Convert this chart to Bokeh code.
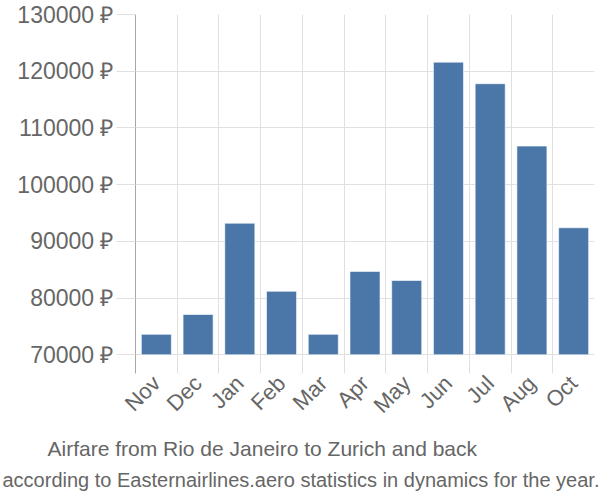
from bokeh.plotting import figure
from bokeh.models import Range1d, FixedTicker, PrintfTickFormatter, Title, ColumnDataSource
from bokeh.embed import file_html
from bokeh.resources import INLINE
from math import pi

months = ["Nov", "Dec", "Jan", "Feb", "Mar", "Apr", "May", "Jun", "Jul", "Aug", "Oct"]
prices = [73600, 77100, 93200, 81200, 73600, 84700, 83100, 121600, 117800, 106800, 92400]
y_ticks = [70000, 80000, 90000, 100000, 110000, 120000, 130000]
title_text = "Airfare from Rio de Janeiro to Zurich and back"
subtitle_text = "according to Easternairlines.aero statistics in dynamics for the year."

FONT = "Liberation Sans"
GRAY = "#666666"
GRID = "#e0e0e0"

n = len(months)
centers = [i + 0.5 for i in range(n)]
src = ColumnDataSource(dict(x=centers, top=prices, month=months))

p = figure(width=600, height=500,
           x_range=Range1d(0, n), y_range=Range1d(66700, 130000),
           output_backend="svg", toolbar_location=None,
           min_border_left=135, min_border_right=6,
           min_border_top=14, min_border_bottom=127)
p.outline_line_color = None
p.background_fill_color = "white"
p.border_fill_color = "white"

p.vbar(x="x", top="top", bottom=y_ticks[0], width=0.72, source=src,
       fill_color="#4a77a8", line_color="white", line_alpha=0.6, line_width=1)

# grids
p.xgrid.ticker = FixedTicker(ticks=list(range(n + 1)))
p.xgrid.grid_line_color = GRID
p.xgrid.grid_line_width = 1
p.ygrid.ticker = FixedTicker(ticks=y_ticks)
p.ygrid.grid_line_color = GRID
p.ygrid.grid_line_width = 1

# y axis
ya = p.yaxis[0]
ya.ticker = FixedTicker(ticks=y_ticks)
ya.formatter = PrintfTickFormatter(format="%d ₽")
ya.axis_line_color = "#a8a8a8"
ya.axis_line_width = 1
ya.major_tick_line_color = GRID
ya.major_tick_out = 19
ya.major_tick_in = 0
ya.minor_tick_line_color = None
ya.major_label_standoff = 3
ya.major_label_text_font = FONT
ya.major_label_text_font_size = "23px"
ya.major_label_text_color = GRAY

# x axis
xa = p.xaxis[0]
xa.ticker = FixedTicker(ticks=centers)
xa.major_label_overrides = {c: m for c, m in zip(centers, months)}
xa.axis_line_color = None
xa.major_tick_line_color = None
xa.minor_tick_line_color = None
xa.major_label_orientation = pi / 4
xa.major_label_standoff = 0
xa.major_label_text_font = FONT
xa.major_label_text_font_size = "22px"
xa.major_label_text_color = GRAY

# titles below
t1 = Title(text=title_text, align="left", offset=-88, standoff=11,
           text_font=FONT, text_font_size="21px", text_color=GRAY,
           text_font_style="normal")
t2 = Title(text=subtitle_text, align="left", offset=-133, standoff=3,
           text_font=FONT, text_font_size="20px", text_color=GRAY,
           text_font_style="normal")
p.add_layout(t1, "below")
p.add_layout(t2, "below")

open("out.html", "w").write(file_html(p, INLINE))
